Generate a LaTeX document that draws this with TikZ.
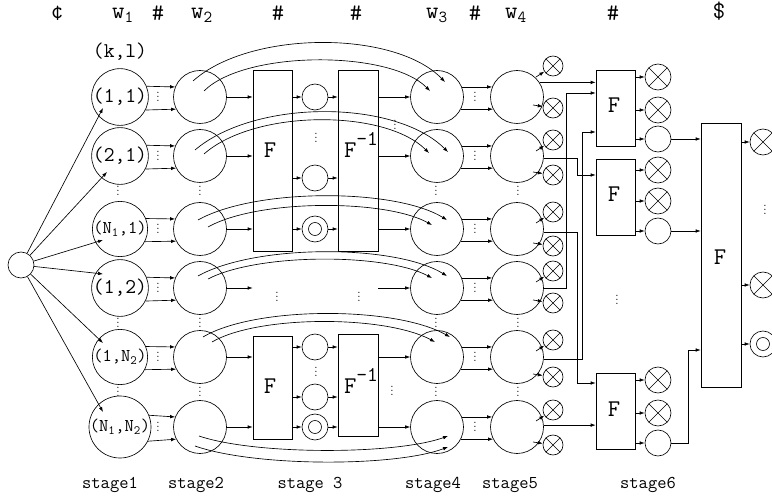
\documentclass[tikz,border=0pt]{standalone}
\usepackage{fontspec}
\usetikzlibrary{arrows.meta,calc}
\begin{document}
\begin{tikzpicture}[x=1pt,y=-1pt,line width=0.65pt,
  arr/.style={-{Latex[length=5pt,width=3.6pt]}},
  bigc/.style={circle,draw,minimum size=53pt,inner sep=0pt,font=\fontsize{21}{21}\selectfont\ttfamily},
  subl/.style={font=\fontsize{18}{18}\selectfont\ttfamily},
  smc/.style={circle,draw,minimum size=26pt,inner sep=0pt},
  dblc/.style={smc,path picture={\draw (path picture bounding box.center) circle (6.5pt);}},
  xo/.style={circle,draw,minimum size=#1,inner sep=0pt,path picture={\draw (path picture bounding box.north west)--(path picture bounding box.south east) (path picture bounding box.north east)--(path picture bounding box.south west);}},
  xo/.default=20pt,
  fbox/.style={draw,inner sep=0pt},
  flab/.style={anchor=base,inner sep=0pt,font=\fontsize{24}{24}\selectfont\ttfamily},
  hdr/.style={anchor=base,inner sep=0pt,font=\fontsize{24}{24}\selectfont\ttfamily},
  stg/.style={anchor=base,inner sep=0pt,font=\fontsize{18}{18}\selectfont\ttfamily},
  vd/.style={anchor=base,inner sep=0pt,yshift=-4.8pt,font=\fontsize{15}{15}\selectfont},
]
\useasboundingbox (0,0) rectangle (772,497);
\clip (0,0) rectangle (772,497);

% header
\node[hdr] (h0) at (57,19) {¢};
\node[hdr] (h1) at (123,19) {w\textsubscript{1}};
\node[hdr] (h2) at (158,21) {\#};
\node[hdr] (h3) at (202,19) {w\textsubscript{2}};
\node[hdr] (h4) at (278,21) {\#};
\node[hdr] (h5) at (356,21) {\#};
\node[hdr] (h6) at (437,19) {w\textsubscript{3}};
\node[hdr] (h7) at (475,21) {\#};
\node[hdr] (h8) at (516,19) {w\textsubscript{4}};
\node[hdr] (h9) at (613,21) {\#};
\node[hdr] (h10) at (719,19) {\$};
\node[font=\fontsize{21}{21}\selectfont\ttfamily,inner sep=0pt] (kl) at (120,52) {(k,l)};

% source
\node[circle,draw,minimum size=26pt,inner sep=0pt] (src) at (21,265) {};

% stage 1
\node[bigc] (s1r1) at (120,97) {(1,1)};
\node[bigc] (s1r2) at (120,156) {(2,1)};
\node[bigc,subl] (s1r3) at (120,229) {(N\textsubscript{1},1)};
\node[bigc] (s1r4) at (120,288) {(1,2)};
\node[bigc,subl] (s1r5) at (120,357) {(1,N\textsubscript{2})};
\node[bigc,subl] (s1r6) at (120,427) {(N\textsubscript{1},N\textsubscript{2})};

\draw[arr] (src) -- ([shift={(-17,11)}]s1r1.center);
\draw[arr] (src) -- ([shift={(-13,16)}]s1r2.center);
\draw[arr] (src) -- ([shift={(-17,11)}]s1r3.center);
\draw[arr] (src) -- ([shift={(-17,-14)}]s1r4.center);
\draw[arr] (src) -- ([shift={(-17,-14)}]s1r5.center);
\draw[arr] (src) -- ([shift={(-17,-15)}]s1r6.center);

\foreach \i/\y in {1/97,2/156,3/229,4/288,5/357,6/427} {
  \node[bigc] (s2r\i) at (200,\y) {};
  \node[bigc] (s4r\i) at (437,\y) {};
  \node[bigc] (s5r\i) at (517,\y) {};
  \draw[arr] (s1r\i.22) -- (s2r\i.158);
  \draw[arr] (s1r\i.-27) -- (s2r\i.-153);
  \draw[arr] (s4r\i.22) -- (s5r\i.158);
  \draw[arr] (s4r\i.-27) -- (s5r\i.-153);
  \node[vd] (da\i) at (158,\y) {$\vdots$};
  \node[vd] (db\i) at (475,\y) {$\vdots$};
}

% column dots
\foreach \x/\n in {118/a,200/b,436/c,518/d} {
  \node[vd] (cd\n1) at (\x,191) {$\vdots$};
  \node[vd] (cd\n2) at (\x,323) {$\vdots$};
  \node[vd] (cd\n3) at (\x,392) {$\vdots$};
}

% stage 3 boxes
\node[fbox,minimum width=39pt,minimum height=181pt] (F1) at (272.5,160.5) {};
\node[fbox,minimum width=40pt,minimum height=181pt] (G1) at (358,160.5) {};
\node[fbox,minimum width=39pt,minimum height=103pt] (F2) at (272.5,387.5) {};
\node[fbox,minimum width=40pt,minimum height=102pt] (G2) at (358,385) {};
\node[flab] (lF1) at (270,158) {F};
\node[flab] (lG1) at (361,158) {F\raisebox{12pt}{\fontsize{21}{21}\selectfont -1}};
\node[flab] (lF2) at (270,393) {F};
\node[flab] (lG2) at (361,393) {F\raisebox{12pt}{\fontsize{21}{21}\selectfont -1}};

\node[smc] (c11) at (315,97) {};
\node[smc] (c12) at (315,178) {};
\node[dblc] (c13) at (315,229) {};
\node[smc] (c21) at (315,347) {};
\node[smc] (c22) at (315,397) {};
\node[dblc] (c23) at (315,427) {};
\node[vd] (d31) at (316,138) {$\vdots$};
\node[vd] (d32) at (316,372) {$\vdots$};
\node[vd] (d33) at (277,297) {$\vdots$};
\node[vd] (d34) at (359,297) {$\vdots$};
\node[vd] (d35) at (395,125) {$\vdots$};
\node[vd] (d36) at (392,391) {$\vdots$};

\foreach \c in {c11,c12,c13} {
  \draw[arr] (\c -| F1.east) -- (\c);
  \draw[arr] (\c) -- (\c -| G1.west);
}
\foreach \c in {c21,c22,c23} {
  \draw[arr] (\c -| F2.east) -- (\c);
  \draw[arr] (\c) -- (\c -| G2.west);
}
\foreach \i in {1,2,3} {
  \draw[arr] (s2r\i) -- (s2r\i -| F1.west);
  \draw[arr] (s4r\i -| G1.east) -- (s4r\i);
}
\draw[arr] (s2r4) -- (s2r4 -| F1.west);
\draw[arr] (s4r4 -| G1.east) -- (s4r4);
\foreach \i in {5,6} {
  \draw[arr] (s2r\i) -- (s2r\i -| F2.west);
  \draw[arr] (s4r\i -| G2.east) -- (s4r\i);
}

% arcs stage 2 -> stage 4
\draw[arr] ([shift={(-7,-16)}]s2r1.center) .. controls (250,30) and (395,30) .. ([shift={(8,-15)}]s4r1.center);
\draw[arr] ([shift={(4,-6)}]s2r1.center) .. controls (245,50) and (390,50) .. ([shift={(-7,-6)}]s4r1.center);
\draw[arr] ([shift={(-5,-6)}]s2r2.center) .. controls (255,99) and (395,99) .. ([shift={(11,-4)}]s4r2.center);
\draw[arr] ([shift={(4,-2)}]s2r2.center) .. controls (255,109) and (385,109) .. ([shift={(-8,-3)}]s4r2.center);
\draw[arr] ([shift={(-2,-9)}]s2r3.center) .. controls (255,188) and (395,188) .. ([shift={(10,-9)}]s4r3.center);
\draw[arr] ([shift={(8,-2)}]s2r3.center) .. controls (258,199) and (385,199) .. ([shift={(-5,-4)}]s4r3.center);
\draw[arr] ([shift={(-2,-12)}]s2r4.center) .. controls (255,244) and (395,244) .. ([shift={(10,-12)}]s4r4.center);
\draw[arr] ([shift={(8,-9)}]s2r4.center) .. controls (258,253) and (385,253) .. ([shift={(-5,-10)}]s4r4.center);
\draw[arr] ([shift={(3,-20)}]s2r5.center) .. controls (255,306) and (395,306) .. ([shift={(13,-20)}]s4r5.center);
\draw[arr] ([shift={(12,-15)}]s2r5.center) .. controls (258,315) and (385,315) .. ([shift={(-2,-15)}]s4r5.center);
\draw[arr] ([shift={(-1,9)}]s2r6.center) .. controls (255,455) and (395,455) .. ([shift={(11,9)}]s4r6.center);
\draw[arr] ([shift={(-5,19)}]s2r6.center) .. controls (255,467) and (395,467) .. ([shift={(11,20)}]s4r6.center);

% stage 5 outputs
\foreach \k/\y in {1/66,3/140,5/212,7/271,9/340,11/410} {
  \node[xo] (x\k) at (553,\y) {};
  \draw[arr] ([shift={(-17,11)}]x\k.center) -- (x\k);
}
\foreach \k/\y in {2/108,4/175,6/246,8/303,10/377,12/445} {
  \node[xo] (x\k) at (553,\y) {};
  \draw[arr] ([shift={(-20,-3)}]x\k.center) -- (x\k);
}

% stage 6 boxes
\node[fbox,minimum width=39pt,minimum height=76pt] (H1) at (615.5,108) {};
\node[fbox,minimum width=39pt,minimum height=76pt] (H2) at (615.5,197) {};
\node[fbox,minimum width=39pt,minimum height=76pt] (H3) at (615.5,411) {};
\node[fbox,minimum width=40pt,minimum height=264pt] (BIG) at (721,255) {};
\node[flab] (lH1) at (614,113) {F};
\node[flab] (lH2) at (614,202) {F};
\node[flab] (lH3) at (614,417) {F};
\node[flab] (lB) at (720,265) {F};
\node[vd] (d61) at (617,300) {$\vdots$};
\node[vd] (d62) at (765,210) {$\vdots$};

\draw[arr] (s5r1.33) -- (s5r1.33 -| H1.west);
\draw[arr] (s5r4.east) -| (566,93) -- (H1.west |- 566,93);
\draw[arr] (s5r5.-4) -| (582,132) -- (H1.west |- 582,132);
\draw[arr] (s5r2.-4) -| (577,175) -- (H2.west |- 577,175);
\draw[arr] (s5r3.-7) -| (577,383) -- (H3.west |- 577,383);
\draw[arr] (s5r6.4) -- (s5r6.4 -| H3.west);

\node[xo=26pt] (o11) at (658,77) {};
\node[xo=26pt] (o12) at (658,110) {};
\node[smc] (o13) at (658,139) {};
\node[xo=26pt] (o21) at (658,170) {};
\node[xo=26pt] (o22) at (658,201) {};
\node[smc] (o23) at (658,231) {};
\node[xo=26pt] (o31) at (658,380) {};
\node[xo=26pt] (o32) at (658,413) {};
\node[smc] (o33) at (658,443) {};
\foreach \o in {o11,o12,o13} {\draw[arr] (\o -| H1.east) -- (\o);}
\foreach \o in {o21,o22,o23} {\draw[arr] (\o -| H2.east) -- (\o);}
\foreach \o in {o31,o32,o33} {\draw[arr] (\o -| H3.east) -- (\o);}

\draw[arr] (o13) -- (o13 -| BIG.west);
\draw[arr] (o23) -- (o23 -| BIG.west);
\draw[arr] (o33) -| (688,350) -- (BIG.west |- 688,350);

\node[xo=26pt] (p1) at (763,142) {};
\node[xo=26pt] (p2) at (763,285) {};
\node[dblc] (p3) at (763,344) {};
\foreach \o in {p1,p2,p3} {\draw[arr] (\o -| BIG.east) -- (\o);}

% stage labels
\node[stg] (t1) at (110,488) {stage1};
\node[stg] (t2) at (196,488) {stage2};
\node[stg] (t3) at (310,488) {stage 3};
\node[stg] (t4) at (433,488) {stage4};
\node[stg] (t5) at (510,488) {stage5};
\node[stg] (t6) at (648,488) {stage6};
\end{tikzpicture}
\end{document}
